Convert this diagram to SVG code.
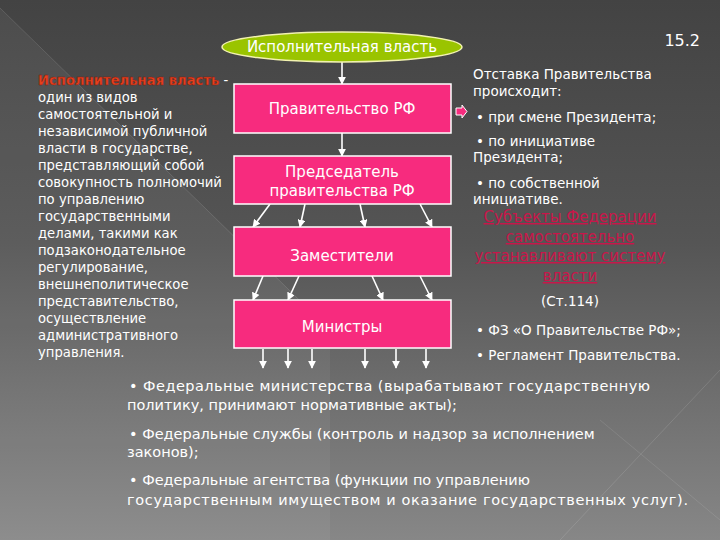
<svg xmlns="http://www.w3.org/2000/svg" width="720" height="540" viewBox="0 0 720 540">
<defs>
<linearGradient id="bg" x1="0" y1="0" x2="0" y2="1">
<stop offset="0" stop-color="#434343"/>
<stop offset="0.45" stop-color="#555555"/>
<stop offset="1" stop-color="#878787"/>
</linearGradient>
<marker id="ah" viewBox="0 0 10 10" refX="9" refY="5" markerWidth="5" markerHeight="5" orient="auto">
<path d="M0,0 L10,5 L0,10 z" fill="#ffffff"/>
</marker>
<style>
.box{fill:#f72b7e;stroke:#ffffff;stroke-width:1.5}
.lbl{font-family:"DejaVu Sans",sans-serif;font-size:15px;fill:#ffffff;text-anchor:middle}
.lt{font-family:"DejaVu Sans",sans-serif;font-size:13.2px;fill:#ffffff}
.rt{font-family:"DejaVu Sans",sans-serif;font-size:13.5px;fill:#ffffff}
.bt{font-family:"DejaVu Sans",sans-serif;font-size:14.5px;fill:#ffffff}
.red{font-family:"DejaVu Sans",sans-serif;font-size:15px;fill:#c8164a;text-anchor:middle;text-decoration:underline}
.con{stroke:#ffffff;stroke-width:1.6;fill:none;marker-end:url(#ah)}
</style>
</defs>
<rect width="720" height="540" fill="url(#bg)"/>
<polygon points="0,8 330,330 330,540 0,540" fill="#ffffff" opacity="0.05"/>
<line x1="0" y1="8" x2="330" y2="330" stroke="#ffffff" stroke-opacity="0.12" stroke-width="1"/>
<line x1="560" y1="540" x2="720" y2="370" stroke="#ffffff" stroke-opacity="0.12"/>
<line x1="600" y1="420" x2="720" y2="520" stroke="#ffffff" stroke-opacity="0.1"/>

<text x="700" y="46" font-family="DejaVu Sans,sans-serif" font-size="16" fill="#ffffff" text-anchor="end">15.2</text>

<g id="connectors">
<line class="con" x1="342" y1="62" x2="342" y2="84"/>
<line class="con" x1="342" y1="133" x2="342" y2="156"/>
<line class="con" x1="270" y1="204" x2="253" y2="227"/>
<line class="con" x1="305" y1="204" x2="300" y2="227"/>
<line class="con" x1="360" y1="204" x2="365" y2="227"/>
<line class="con" x1="420" y1="204" x2="432" y2="227"/>
<line class="con" x1="263" y1="276" x2="253" y2="300"/>
<line class="con" x1="299" y1="276" x2="288" y2="300"/>
<line class="con" x1="372" y1="276" x2="383" y2="300"/>
<line class="con" x1="420" y1="276" x2="432" y2="300"/>
<line class="con" x1="263" y1="349" x2="263" y2="368"/>
<line class="con" x1="288" y1="349" x2="288" y2="368"/>
<line class="con" x1="312" y1="349" x2="312" y2="368"/>
<line class="con" x1="365" y1="349" x2="365" y2="368"/>
<line class="con" x1="396" y1="349" x2="396" y2="368"/>
<line class="con" x1="426" y1="349" x2="426" y2="368"/>
<polygon points="456,108 462,108 462,105 467,111.5 462,118 462,115 456,115" fill="#f72b7e" stroke="#ffffff" stroke-width="1"/>
</g>

<g id="exec">
<ellipse cx="342" cy="47" rx="120" ry="15" fill="#9ac400" stroke="#f2f2b0" stroke-width="1.5"/>
<text class="lbl" x="342" y="52" font-size="14.5">Исполнительная власть</text>
</g>
<g id="gov">
<rect class="box" x="234" y="84" width="217" height="49"/>
<text class="lbl" x="342" y="114">Правительство РФ</text>
</g>
<g id="chair">
<rect class="box" x="234" y="156" width="217" height="48"/>
<text class="lbl" x="342" y="177">Председатель</text>
<text class="lbl" x="342" y="196">правительства РФ</text>
</g>
<g id="deputies">
<rect class="box" x="234" y="227" width="217" height="49"/>
<text class="lbl" x="342" y="261">Заместители</text>
</g>
<g id="ministers">
<rect class="box" x="234" y="300" width="217" height="48"/>
<text class="lbl" x="342" y="332">Министры</text>
</g>

<g id="definition">
<text class="lt" x="38" y="85"><tspan fill="#e8401c" font-weight="bold" stroke="#7a1a10" stroke-width="0.4">Исполнительная власть</tspan> -</text>
<text class="lt" x="38" y="102">один из видов</text>
<text class="lt" x="38" y="119">самостоятельной и</text>
<text class="lt" x="38" y="136">независимой публичной</text>
<text class="lt" x="38" y="153">власти в государстве,</text>
<text class="lt" x="38" y="170">представляющий собой</text>
<text class="lt" x="38" y="187">совокупность полномочий</text>
<text class="lt" x="38" y="204">по управлению</text>
<text class="lt" x="38" y="221">государственными</text>
<text class="lt" x="38" y="238">делами, такими как</text>
<text class="lt" x="38" y="255">подзаконодательное</text>
<text class="lt" x="38" y="272">регулирование,</text>
<text class="lt" x="38" y="289">внешнеполитическое</text>
<text class="lt" x="38" y="306">представительство,</text>
<text class="lt" x="38" y="323">осуществление</text>
<text class="lt" x="38" y="340">административного</text>
<text class="lt" x="38" y="357">управления.</text>
</g>

<g id="resignation">
<text class="rt" x="473" y="79">Отставка Правительства</text>
<text class="rt" x="473" y="96">происходит:</text>
<text class="rt" x="476" y="122">•  при смене Президента;</text>
<text class="rt" x="476" y="146">•  по инициативе</text>
<text class="rt" x="473" y="162">Президента;</text>
<text class="rt" x="476" y="188">•  по собственной</text>
<text class="rt" x="473" y="204">инициативе.</text>
<text class="red" x="570" y="222">Субъекты Федерации</text>
<text class="red" x="570" y="242">самостоятельно</text>
<text class="red" x="570" y="261">устанавливают систему</text>
<text class="red" x="570" y="281">власти</text>
<text class="rt" x="570" y="306" text-anchor="middle" font-size="14.5">(Ст.114)</text>
<text class="rt" x="476" y="335">•  ФЗ «О Правительстве РФ»;</text>
<text class="rt" x="476" y="360">•  Регламент Правительства.</text>
</g>

<g id="bodies">
<text class="bt" x="129" y="391" textLength="521" lengthAdjust="spacing">•  Федеральные министерства (вырабатывают государственную</text>
<text class="bt" x="127" y="410">политику, принимают нормативные акты);</text>
<text class="bt" x="129" y="439">•  Федеральные службы (контроль и надзор за исполнением</text>
<text class="bt" x="127" y="457">законов);</text>
<text class="bt" x="129" y="485">•   Федеральные агентства (функции по управлению</text>
<text class="bt" x="127" y="505" textLength="561" lengthAdjust="spacing">государственным имуществом и оказание государственных услуг).</text>
</g>
</svg>
